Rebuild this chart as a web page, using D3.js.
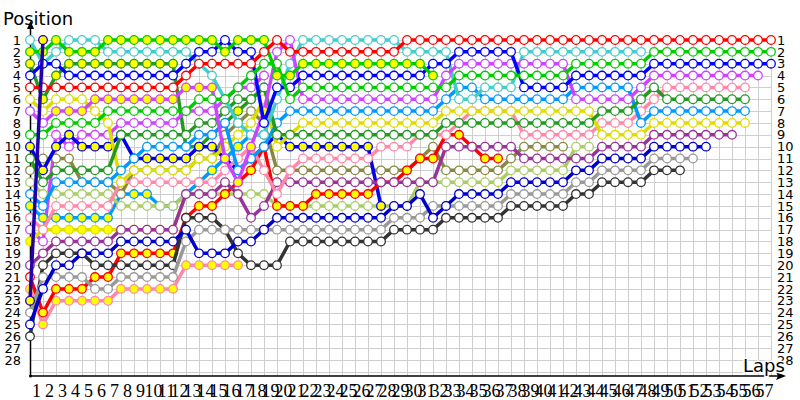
<!DOCTYPE html>
<html>
<head>
<meta charset="utf-8">
<script src="https://cdn.jsdelivr.net/npm/d3@7/dist/d3.min.js"></script>
<style>
  body { margin: 0; background: #fff; }
  text { font-family: "DejaVu Sans", sans-serif; }
</style>
</head>
<body>
<svg id="chart" width="800" height="400"></svg>
<script>
// ---------- data: position of each car at the end of each lap (index 0 = grid) ----------
const lapTicks = d3.range(1, 58);
const posTicks = d3.range(1, 29);

const red1   = [5,5,5,5,5,5,5,5,5,5,5,5,4,3,3,3,3,3,2,1,2,2,2,2,2,2,2,2,2,1,1,1,1,1,1,1,1,1,1,1,1,1,1,1,1,1,1,1,1,1,1,1,1,1,1,1,1,1];
const greenY = [2,2,1,2,2,2,1,1,1,1,1,1,1,1,1,2,1,1,1,4,4,3,3,3,3,3,3,3,3,3,3,4];
const greenW = [9,9,8,8,8,8,7,7,7,7,7,7,7,6,6,6,5,4,3,3,6,5,5,5,5,5,5,5,5,5,5,5,5,4,4,4,4,4,4,4,4,4,3,3,3,3,3,3,2,2,2,2,2,2,2,2,2,2];
const blue   = [4,3,3,4,4,4,4,4,4,4,4,4,3,2,2,1,2,2,8,5,5,4,4,4,4,4,4,4,4,4,4,3,3,2,2,2,2,2,5,5,5,5,4,4,4,4,4,4,3,3,3,3,3,3,3,3,3,3];
const magenta= [7,8,7,7,7,6,6,6,6,6,6,6,5,5,5,11,13,10,7,2,1,6,6,6,6,6,6,6,6,6,6,6,4,3,3,3,3,3,3,3,3,3,6,6,6,6,6,5,4,4,4,4,4,4,4,4,4];
const cyan   = [1,3,2,1,1,1,2,2,2,2,2,2,2,3,4,6,8,9,9,6,3,1,1,1,1,1,1,1,1,2,2,2,2,6,6,5,5,5,2,2,2,2,2,2,2,2,2,2];
const dkgreen= [11,13,12,12,12,12,12,9,9,9,9,9,9,8,8,7,6,6,5,9,9,9,9,9,9,9,9,9,9,9,9,9,8,8,8,8,8,8,8,8,8,8,8,8,7,7,7,6,5,6,6,6,6,6,6,6];
const ltblue = [14,15,13,13,13,13,13,12,11,10,10,10,10,9,9,8,12,11,10,8,7,7,7,7,7,7,7,7,7,7,7,7,6,5,5,6,6,6,6,6,6,6,5,5,5,5,5,8,7,7,7,7,7,7,7,7];
const yellow = [6,7,6,6,6,7,8,13,12,12,12,12,12,11,11,10,9,8,6,10,9,8,8,8,8,8,8,8,8,8,8,8,7,7,7,7,7,7,7,7,7,7,7,7,9,9,9,9,8,8,8,8,8,8,8,8];
const pink   = [16,17,15,15,15,15,15,13,13,13,13,13,13,13,13,12,11,10,12,14,12,11,11,11,11,11,11,10,10,10,9,9,9,8,7,7,7,7,9,9,9,9,9,9,8,8,8,7,6,5,5,5,5,5,5,5];
const purple = [20,19,18,18,18,18,18,17,17,17,17,17,14,14,14,13,14,16,15,13,13,13,13,13,13,13,13,13,13,13,13,13,10,10,10,10,10,10,11,11,11,11,11,11,10,10,10,10,9,9,9,9,9,9,9];
const blue2  = [25,22,20,20,19,19,19,18,18,18,18,18,17,19,19,19,18,18,17,16,16,16,16,16,16,16,16,16,15,15,14,16,15,14,14,14,14,13,13,13,13,13,12,12,11,11,11,11,10,10,10,10,10];
const gray   = [24,21,21,21,21,22,22,21,21,21,21,21,18,17,17,17,17,17,17,17,17,17,17,17,17,17,17,17,16,16,16,15,15,15,15,15,15,14,14,14,14,14,13,13,12,12,12,12,11,11,11,11];
const dkgray = [26,20,19,19,19,20,20,20,20,20,20,20,16,16,16,17,19,20,20,20,18,18,18,18,18,18,18,18,17,17,17,17,16,16,16,16,16,15,15,15,15,15,14,14,13,13,13,13,12,12,12];
const navy   = [23,1];
const red2   = [21,24,22,22,22,21,21,19,19,19,19,19,16,15,15,14,13,12,10,15,15,15,14,14,14,14,14,13,13,12,11,11,9,9,10,11,11];
const pink2  = [22,25,23,23,23,23,23,22,22,22,22,22,20,20,20,20,20];
const olive  = [12,11,11,11,13,13,13,14,12,12,12,12,12,11,11,9,8,7,8,12,12,12,12,12,12,12,12,12,12,12,11,10,12,12,12,12,12,11,10,10,10,10];
const ltgreen= [13,14,14,14,14,14,14,15,15,15,15,15,14,14,14,14,14,14,14,15,15,15,15,15,15,15,15,15,15,15,13,13,13,13,13,13,13,12,12,12,12,12,10,10];
const blueY  = [10,12,10,9,10,10,10,9,11,11,11,11,11,10,10,11,12,11,10,9,10,10,10,10,10,10,10,15];
const yellowY= [18,17,17,17,17,17,17,17,17,17,17,17,14,13,12,11,10,9,9];
const ltblueY= [15,16,16,16,16,16,16,14,14,14,15,15,14,13,12,11,10,9,9];
const dkgreenY=[3,6,4,3,3,3,3,3,3,3,3,3,10,10,9,8,7,6,5];
const magenta2=[17,18,9,10,9,9,9,8,8,8,8,8,7,7,7,6,5,5,4];

// colour of each car, and laps drawn with a yellow-filled marker [from, to]
const cars = [
  { pos: dkgreenY, color: "#229922", yellow: [0, 99] },
  { pos: magenta2, color: "#cc44ff", yellow: null },
  { pos: yellowY,  color: "#dddd00", yellow: [0, 99] },
  { pos: ltblueY,  color: "#0099ff", yellow: [0, 99] },
  { pos: pink2,    color: "#ff88aa", yellow: [0, 99] },
  { pos: olive,    color: "#888844", yellow: null },
  { pos: ltgreen,  color: "#aacc66", yellow: null },
  { pos: blueY,    color: "#0000ee", yellow: [0, 99] },
  { pos: red2,     color: "#ff0000", yellow: [1, 99] },
  { pos: dkgray,   color: "#333333", yellow: null },
  { pos: gray,     color: "#999999", yellow: null },
  { pos: blue2,    color: "#0000cc", yellow: null },
  { pos: purple,   color: "#993399", yellow: null },
  { pos: pink,     color: "#ff88aa", yellow: null },
  { pos: yellow,   color: "#dddd00", yellow: null },
  { pos: ltblue,   color: "#0099ff", yellow: null },
  { pos: dkgreen,  color: "#229922", yellow: null },
  { pos: cyan,     color: "#44cccc", yellow: null },
  { pos: magenta,  color: "#cc44ff", yellow: [2, 18] },
  { pos: blue,     color: "#0000ff", yellow: null },
  { pos: greenW,   color: "#00cc00", yellow: null },
  { pos: greenY,   color: "#00cc00", yellow: [0, 99] },
  { pos: red1,     color: "#ff0000", yellow: null },
  { pos: navy,     color: "#2200aa", yellow: [0, 99] }
];

// ---------- scales ----------
const svg = d3.select('#chart');
const x = d3.scaleLinear().domain([0, 57]).range([30, 771]);
const y = d3.scaleLinear().domain([1, 28]).range([40, 360]);
const axisY = 376;

// ---------- grid ----------
const grid = svg.append('g').attr('stroke', '#cfcfcf').attr('stroke-width', 1);
grid.selectAll('line.v').data(lapTicks).join('line')
  .attr('class', 'v')
  .attr('x1', d => x(d) + 0.5).attr('x2', d => x(d) + 0.5)
  .attr('y1', y(1) - 5).attr('y2', axisY);
grid.selectAll('line.h').data(d3.range(1, 30)).join('line')
  .attr('class', 'h')
  .attr('x1', x(0)).attr('x2', x(57))
  .attr('y1', d => Math.round(y(d)) + 0.5).attr('y2', d => Math.round(y(d)) + 0.5);

// ---------- axes ----------
const xAxis = svg.append('g')
  .attr('transform', `translate(0,${axisY})`)
  .call(d3.axisBottom(x).tickValues(lapTicks).tickSize(0).tickPadding(8));
xAxis.select('.domain').remove();
xAxis.selectAll('text')
  .attr('dx', -7)
  .style('font-family', '"Liberation Serif", serif')
  .style('font-size', '18px')
  .attr('fill', '#000');

const yAxisL = svg.append('g')
  .attr('transform', `translate(30,0)`)
  .call(d3.axisLeft(y).tickValues(posTicks).tickSize(0).tickPadding(9));
yAxisL.select('.domain').remove();
yAxisL.selectAll('text').style('font-size', '13px').style('font-family', '"DejaVu Sans", sans-serif').attr('fill', '#000');

const yAxisR = svg.append('g')
  .attr('transform', `translate(${x(57)},0)`)
  .call(d3.axisRight(y).tickValues(posTicks).tickSize(0).tickPadding(6));
yAxisR.select('.domain').remove();
yAxisR.selectAll('text').style('font-size', '13px').style('font-family', '"DejaVu Sans", sans-serif').attr('fill', '#000');

// axis lines with arrow heads
svg.append('line').attr('x1', 30.5).attr('x2', 30.5).attr('y1', 26).attr('y2', axisY).attr('stroke', '#000').attr('stroke-width', 1.5);
svg.append('line').attr('x1', 30).attr('x2', 781).attr('y1', axisY).attr('y2', axisY).attr('stroke', '#000').attr('stroke-width', 1.5);
svg.append('path').attr('d', 'M30.5,21 L27,29 L34,29 Z').attr('fill', '#000');
svg.append('path').attr('d', `M786,${axisY} L776,${axisY - 4} L778,${axisY} L776,${axisY + 4} Z`).attr('fill', '#000');
svg.append('circle').attr('cx', 30.5).attr('cy', axisY).attr('r', 1.5).attr('fill', '#000');

svg.append('text').attr('x', 3).attr('y', 25).text('Position')
  .style('font-size', '18px').attr('fill', '#000');
// "Laps" sits on top of the last right-hand label, as in the original
svg.append('text').attr('x', 743).attr('y', 372).text('Laps')
  .style('font-size', '18px').attr('fill', '#000')
  .attr('stroke', '#fff').attr('stroke-width', 3).attr('paint-order', 'stroke');

// ---------- cars ----------
const line = d3.line().x((d, i) => x(i)).y(d => y(d));

cars.forEach(car => {
  const g = svg.append('g');
  g.append('path')
    .attr('d', line(car.pos))
    .attr('fill', 'none')
    .attr('stroke', car.color)
    .attr('stroke-width', 3.5)
    .attr('stroke-linejoin', 'round');
  g.selectAll('circle').data(car.pos).join('circle')
    .attr('cx', (d, i) => x(i))
    .attr('cy', d => y(d))
    .attr('r', 4.3)
    .attr('stroke', car.color)
    .attr('stroke-width', 1.3)
    .attr('fill', (d, i) => car.yellow && i >= car.yellow[0] && i <= car.yellow[1] ? '#ffff00' : '#fff');
});
</script>
</body>
</html>
